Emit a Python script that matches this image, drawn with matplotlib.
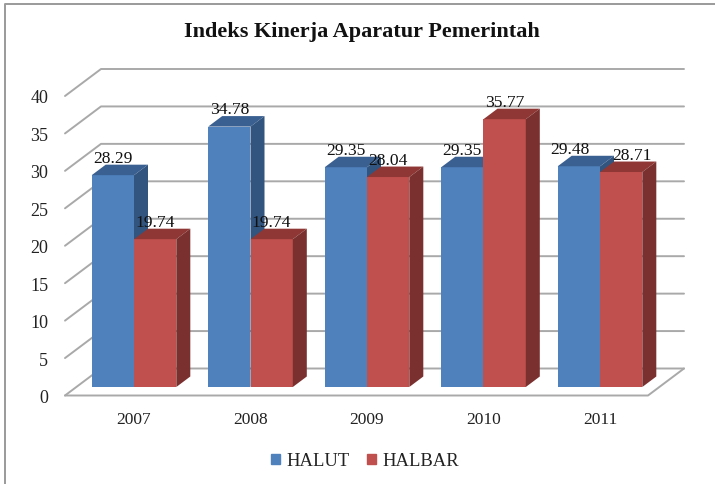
import matplotlib
matplotlib.use('Agg')
import matplotlib.pyplot as plt
from matplotlib.patches import Rectangle
from matplotlib.lines import Line2D

years = ['2007', '2008', '2009', '2010', '2011']
halut = [28.29, 34.78, 29.35, 29.35, 29.48]
halbar = [19.74, 19.74, 28.04, 35.77, 28.71]
yticks = [0, 5, 10, 15, 20, 25, 30, 35, 40]
title = 'Indeks Kinerja Aparatur Pemerintah'

W, H = 715, 485
SERIF = 'Liberation Serif'
fig = plt.figure(figsize=(W / 100, H / 100), dpi=100, facecolor='white')
# axes rectangle = front plane of the 3D box, in pixels
L, R, B, T = 65, 648, 396.5, 97
ax = fig.add_axes([L / W, 1 - B / H, (R - L) / W, (B - T) / H])
PX = 116.5
ax.set_xlim((L - 134) / PX, (R - 134) / PX)
ax.set_ylim(0, 40)
PY = (B - T) / 40
ax.patch.set_visible(False)
for s in ax.spines.values():
    s.set_visible(False)

wall_dx, wall_dy = 36 / PX, 27 / PY
bar_dx, bar_dy = 14 / PX, 10.5 / PY
base = 8.5 / PY
bw = 42.3 / PX
x0, x1 = ax.get_xlim()

GRID = '#a9a9a9'
lkw = dict(color=GRID, lw=1.4, clip_on=False, zorder=1, solid_capstyle='round')
for v in yticks:
    ax.plot([x0, x0 + wall_dx, x1 + wall_dx], [v, v + wall_dy, v + wall_dy], **lkw)
ax.plot([x0, x1, x1 + wall_dx], [0, 0, wall_dy], **lkw)

def bar3d(x, v, front, top, side, z):
    h = base + v
    ax.bar(x, v, bw, bottom=base, color=front, align='edge', zorder=z, clip_on=False, lw=0)
    xr = x + bw
    ax.fill([x, xr, xr + bar_dx, x + bar_dx], [h, h, h + bar_dy, h + bar_dy],
            color=top, lw=0, zorder=z, clip_on=False)
    ax.fill([xr, xr + bar_dx, xr + bar_dx, xr], [base, base + bar_dy, h + bar_dy, h],
            color=side, lw=0, zorder=z, clip_on=False)

for i, (a, b) in enumerate(zip(halut, halbar)):
    bar3d(i - bw, a, '#4f81bd', '#3a6091', '#325580', 3 + i)
    bar3d(i, b, '#c0504d', '#8e3734', '#7a302e', 3.5 + i)

lab_off = 17.5 / PY
shift_a = [0, 0, 0, 0, -9 / PX]
shift_b = [0, 0, 0, 0, 11 / PX]
for i, (a, b) in enumerate(zip(halut, halbar)):
    ax.text(i - bw / 2 + shift_a[i], base + a + lab_off, f'{a:.2f}', ha='center', va='center',
            family=SERIF, fontsize=12.6, color='#111111', zorder=20)
    ax.text(i + bw / 2 + shift_b[i], base + b + lab_off, f'{b:.2f}', ha='center', va='center',
            family=SERIF, fontsize=12.6, color='#111111', zorder=20)

ax.set_yticks(yticks)
ax.set_yticklabels([str(v) for v in yticks], family=SERIF, fontsize=13, color='#222222')
ax.set_xticks(range(len(years)))
ax.set_xticklabels(years, family=SERIF, fontsize=12.5, color='#222222')
ax.tick_params(axis='y', length=0, pad=12)
ax.tick_params(axis='x', length=0, pad=11)

fig.text(362 / W, 1 - 31.5 / H, title, ha='center', va='center', family=SERIF,
         fontweight='bold', fontsize=16, color='#111111')

# legend
h = [Rectangle((0, 0), 1, 1, color='#4f81bd'), Rectangle((0, 0), 1, 1, color='#c0504d')]
fig.legend(h, ['HALUT', 'HALBAR'], loc='center', bbox_to_anchor=(365 / W, 1 - 462 / H), ncol=2,
           frameon=False, prop={'family': SERIF, 'size': 13.4}, handlelength=0.5, handleheight=0.5,
           handletextpad=0.35, columnspacing=0.9, labelcolor='#222222')

# outer frame: top and left edges only
fig.add_artist(Line2D([5 / W, 5 / W, 1], [0, 1 - 4.5 / H, 1 - 4.5 / H], color='#9a9a9a', lw=1.4,
                      transform=fig.transFigure))
fig.savefig('out.png', dpi=100)
